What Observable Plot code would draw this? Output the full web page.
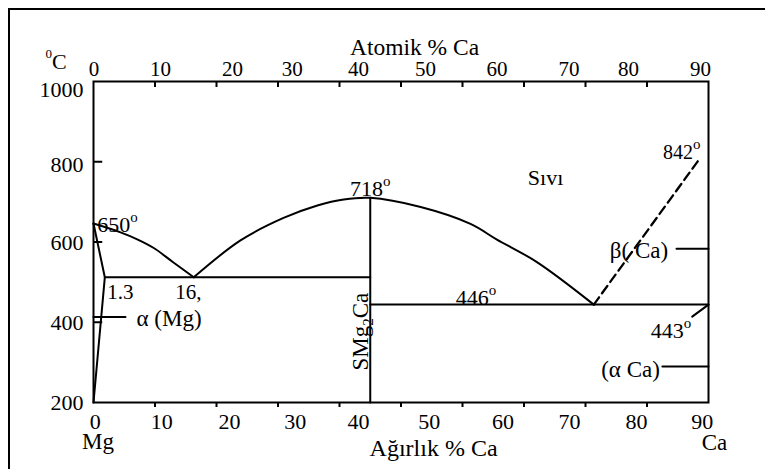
<!DOCTYPE html>
<html>
<head>
<meta charset="utf-8">
<script src="https://cdn.jsdelivr.net/npm/d3@7"></script>
<script src="https://cdn.jsdelivr.net/npm/@observablehq/plot@0.6"></script>
<style>
  html, body { margin: 0; padding: 0; background: #fff; overflow: hidden; }
  #wrap { position: relative; width: 765px; height: 469px; overflow: hidden; }
  #wrap::before { content: ""; position: absolute; left: 8px; top: 8px; width: 900px; height: 900px;
    border-top: 2px solid #000; border-left: 2px solid #000; z-index: 2; pointer-events: none; }
  #wrap svg { display: block; }
</style>
</head>
<body>
<div id="wrap"></div>
<script>
// ---- Tick values and labels ----
const xTicks = [10, 20, 30, 40, 50, 60, 70, 80, 90];
const xLabels = ["0", "10", "20", "30", "40", "50", "60", "70", "80", "90"];
const bottomLabelX = [0.3, 11.1, 22.1, 32.8, 43.1, 54.6, 66.6, 77.4, 88.3, 99.0];
const topLabelX = [0.1, 10.9, 22.6, 32.3, 43.1, 54.0, 65.6, 77.3, 87.0, 98.7];
const yTicks = [800, 600, 400];
const yLabels = ["1000", "800", "600", "400", "200"];
const yLabelPos = [980, 792, 598, 399, 199];

// ---- Phase boundaries (weight % Ca, °C) ----
const liqLeftX = [0, 4.4, 7.2, 9.8, 13.0, 16.3];
const liqLeftY = [646, 624, 606, 585, 549, 512];
const liqMidX = [16.3, 23.9, 30.9, 36.4, 40.7, 45.0, 53.2, 61.3, 65.6, 72.1, 81.35];
const liqMidY = [512, 604, 660, 691, 706, 710, 687, 645, 606, 550, 444];
const solidusX = [0, 1.84, 0];
const solidusY = [646, 512, 200];
const eut1X = [1.84, 45.0];
const eut1Y = [512, 512];
const compoundX = [45.0, 45.0];
const compoundY = [200, 710];
const eut2X = [45.0, 100];
const eut2Y = [444, 444];
const dashedX = [81.35, 98.7];
const dashedY = [444, 810.6];
const leaderMgX = [0, 5.2];
const leaderMgY = [413, 413];
const leaderBetaX = [94.8, 100];
const leaderBetaY = [583, 583];
const leaderAlphaCaX = [92.5, 100];
const leaderAlphaCaY = [290, 290];
const leader443X = [97.35, 100];
const leader443Y = [414, 444];

// ---- Annotations (left-anchored) ----
const annoText = ["650°", "1.3", "16,", "α (Mg)", "718°", "446°", "842°", "β( Ca)", "443°", "(α Ca)"];
const annoX = [0.6, 2.23, 13.3, 7.0, 41.7, 58.9, 92.6, 83.95, 90.6, 82.55];
const annoY = [643, 474, 474, 408.6, 732.6, 461.2, 822.5, 579.3, 378.2, 281.7];
const annoSize = [22, 21, 21, 23, 22, 22, 20, 23, 22, 23];
// region label (centred)
const regionText = ["Sıvı"];
const regionX = [73.5];
const regionY = [759.5];

const pts = (xs, ys) => xs.map((x, i) => ({x, y: ys[i]}));
const annos = annoText.map((t, i) => ({t, x: annoX[i], y: annoY[i], s: annoSize[i]}));
const regions = regionText.map((t, i) => ({t, x: regionX[i], y: regionY[i]}));

const FONT = "Liberation Serif";
const lw = 2;
const T = {fill: "#000", fontFamily: FONT};

const plot = Plot.plot({
  width: 765,
  height: 469,
  marginLeft: 93,
  marginRight: 57,
  marginTop: 81,
  marginBottom: 67,
  x: {domain: [0, 100], axis: null},
  y: {domain: [200, 1000], axis: null},
  style: {fontFamily: FONT, color: "#000", background: "#fff", overflow: "visible"},
  marks: [
    Plot.frame({stroke: "#000", strokeWidth: lw}),
    // ticks
    Plot.ruleX(xTicks, {x: d => d, y1: 1000, y2: 985, stroke: "#000", strokeWidth: lw}),
    Plot.ruleX(xTicks, {x: d => d, y1: 200, y2: 187.5, stroke: "#000", strokeWidth: lw}),
    Plot.ruleY(yTicks, {y: d => d, x1: 0, x2: 1.5, stroke: "#000", strokeWidth: lw}),
    // tick labels
    Plot.text(xLabels, {...T, x: (d, i) => bottomLabelX[i], text: d => d, frameAnchor: "bottom", dy: 19, lineAnchor: "middle", fontSize: 22}),
    Plot.text(xLabels, {...T, x: (d, i) => topLabelX[i], text: d => d, frameAnchor: "top", dy: -12.7, lineAnchor: "middle", fontSize: 21}),
    Plot.text(yLabels, {...T, y: (d, i) => yLabelPos[i], text: d => d, frameAnchor: "left", dx: -10, textAnchor: "end", lineAnchor: "middle", fontSize: 22}),
    // axis titles
    Plot.text(["Atomik % Ca"], {...T, x: 52.2, text: d => d, frameAnchor: "top", dy: -34, lineAnchor: "middle", fontSize: 23.5}),
    Plot.text(["Ağırlık % Ca"], {...T, x: 55.3, text: d => d, frameAnchor: "bottom", dy: 46.3, lineAnchor: "middle", fontSize: 24}),
    Plot.text(["Mg"], {...T, x: 0.73, text: d => d, frameAnchor: "bottom", dy: 39, lineAnchor: "middle", fontSize: 23}),
    Plot.text(["Ca"], {...T, x: 100.98, text: d => d, frameAnchor: "bottom", dy: 40.5, lineAnchor: "middle", fontSize: 23}),
    Plot.text(["⁰C"], {...T, x: -7.8, text: d => d, frameAnchor: "top", dy: -19.3, textAnchor: "start", lineAnchor: "middle", fontSize: 22}),
    // phase boundaries
    Plot.line(pts(liqLeftX, liqLeftY), {x: "x", y: "y", curve: "catmull-rom", stroke: "#000", strokeWidth: lw}),
    Plot.line(pts(liqMidX, liqMidY), {x: "x", y: "y", curve: "catmull-rom", stroke: "#000", strokeWidth: lw}),
    Plot.line(pts(solidusX, solidusY), {x: "x", y: "y", stroke: "#000", strokeWidth: lw}),
    Plot.line(pts(eut1X, eut1Y), {x: "x", y: "y", stroke: "#000", strokeWidth: lw}),
    Plot.line(pts(compoundX, compoundY), {x: "x", y: "y", stroke: "#000", strokeWidth: lw}),
    Plot.line(pts(eut2X, eut2Y), {x: "x", y: "y", stroke: "#000", strokeWidth: lw}),
    Plot.line(pts(dashedX, dashedY), {x: "x", y: "y", stroke: "#000", strokeWidth: 2.3, strokeDasharray: "9,5"}),
    Plot.line(pts(leaderMgX, leaderMgY), {x: "x", y: "y", stroke: "#000", strokeWidth: lw}),
    Plot.line(pts(leaderBetaX, leaderBetaY), {x: "x", y: "y", stroke: "#000", strokeWidth: lw}),
    Plot.line(pts(leaderAlphaCaX, leaderAlphaCaY), {x: "x", y: "y", stroke: "#000", strokeWidth: lw}),
    Plot.line(pts(leader443X, leader443Y), {x: "x", y: "y", stroke: "#000", strokeWidth: lw}),
    // annotations
    Plot.text(annos, {...T, x: "x", y: "y", text: "t", textAnchor: "start", fontSize: "s", lineAnchor: "middle"}),
    Plot.text(regions, {...T, x: "x", y: "y", text: "t", textAnchor: "middle", fontSize: 22, lineAnchor: "middle"}),
    Plot.text(["SMg₂Ca"], {...T, x: 44.7, y: 279.75, text: d => d, rotate: -90, textAnchor: "start", lineAnchor: "bottom", fontSize: 23})
  ]
});

// superscripts / subscripts as tspans
d3.select(plot).selectAll("text").each(function () {
  const s = this.textContent;
  if (!/[°₂⁰]/.test(s)) return;
  const sel = d3.select(this);
  sel.text(null);
  let shift = 0;
  for (const part of s.match(/[°₂⁰]|[^°₂⁰]+/g)) {
    const ts = sel.append("tspan");
    if (part === "°") { ts.attr("font-size", 15).attr("dy", -10 - shift).text("o"); shift = -10; }
    else if (part === "⁰") { ts.attr("font-size", 13).attr("dy", -11 - shift).text("0"); shift = -11; }
    else if (part === "₂") { ts.attr("font-size", 15).attr("dy", 5 - shift).text("2"); shift = 5; }
    else { if (shift !== 0) ts.attr("dy", -shift); ts.text(part); shift = 0; }
  }
});
d3.select(plot).selectAll("text").attr("font-family", FONT).style("font-family", FONT);

document.getElementById("wrap").appendChild(plot);
</script>
</body>
</html>
